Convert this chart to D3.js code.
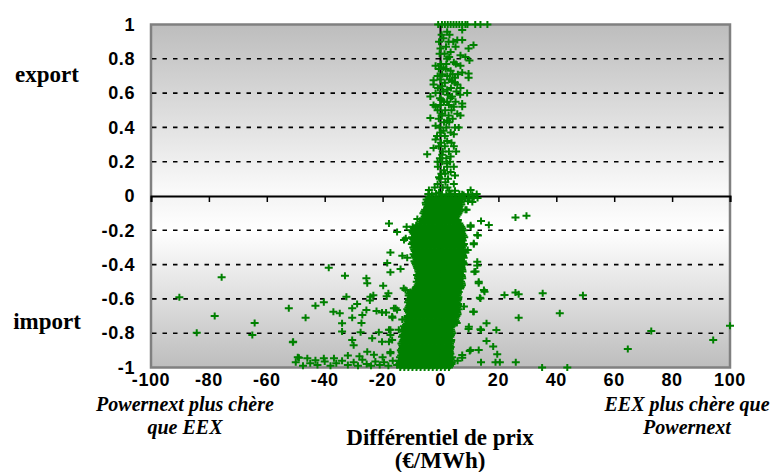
<!DOCTYPE html>
<html><head><meta charset="utf-8">
<script src="https://cdn.jsdelivr.net/npm/d3@7"></script>
<style>body{margin:0;background:#fff}svg{display:block}</style>
</head><body><svg id="chart" width="776" height="472"></svg>
<script>
// Axis ticks
const xTicks = [-100, -80, -60, -40, -20, 0, 20, 40, 60, 80, 100];
const yTicks = [1, 0.8, 0.6, 0.4, 0.2, 0, -0.2, -0.4, -0.6, -0.8, -1];
const gridValues = [0.8, 0.6, 0.4, 0.2, -0.2, -0.4, -0.6, -0.8];

// Hours with export (flow > 0): [price differential €/MWh, flow ratio]
const exportHours = [
  [-0.8,1],[0.5,1],[1.5,1],[2.5,1],[3.5,1],[4.5,1],[5.5,1],[6.5,1],[7.5,1],[8.6,1],[9.3,1],[12,1],[13.8,1],[16.2,1],
  [7.5,0.968],[2.3,0.958],[1,0.92],[5.8,0.91],[7.5,0.91],[11.4,0.88],[9.7,0.86],[0,0.86],[3.5,0.84],[6.9,0.82],
  [8.6,0.81],[10,0.79],[2.3,0.8],[4.6,0.78],[-1.7,0.76],[6.9,0.76],[1,0.75],[3.5,0.73],[7.5,0.72],[9.7,0.715],
  [-1,0.7],[2.3,0.7],[5,0.69],[9.7,0.69],[-2.4,0.675],[4,0.67],[5.8,0.65],[-2.4,0.65],[0.6,0.64],[6.9,0.63],
  [2.3,0.62],[-1.7,0.6],[-3.5,0.58],[4,0.58],[9.2,0.6],[0.3,0.56],[2.3,0.55],[7.5,0.54],[-2.4,0.53],[4.6,0.52],
  [-1.7,0.52],[7.5,0.52],[-3.5,0.455],[0.6,0.48],[5.8,0.48],[6.9,0.47],[2.3,0.44],[-1.7,0.41],[6.3,0.4],[1,0.38],
  [4.6,0.36],[-1.7,0.33],[2.3,0.32],[-4.6,0.243],[-2.4,0.28],[4.6,0.29],[0.6,0.24],[3.5,0.23],[-1,0.2],[2.3,0.19],
  [4.6,0.17],[1.2,0.15],[3.5,0.14],[-0.5,0.11],[5,0.12],[1.7,0.08],[-1,0.07],[4.6,0.07],[-4,0.035],[-4,0.01],
  [-0.5,0.02],[10.4,0.035],[7.5,0.01],
  [-4.2,0.012],[-3,0.008],[-1.5,0.015],[0.5,0.01],[2,0.006],[3.5,0.014],[5,0.008],[6.5,0.012],[8,0.006],[9.5,0.01],[11,0.008],[12.5,0.012],
  [0.4,0.94],[3.1,0.94],[-0.5,0.9],[2.8,0.9],[4.4,0.9],[1.9,0.87],[5.2,0.87],[-0.3,0.83],[1.4,0.83],[3,0.81],
  [0.2,0.77],[2,0.77],[5.3,0.77],[-0.6,0.74],[1.8,0.74],[0.6,0.71],[4.2,0.71],[6,0.71],[0,0.68],[3.2,0.68],
  [1.5,0.66],[5,0.66],[-0.9,0.63],[3.6,0.63],[0.9,0.61],[5.5,0.61],[2.5,0.59],[6.8,0.59],[-0.2,0.57],[3.5,0.57],
  [1.2,0.55],[5.2,0.55],[0,0.53],[2.9,0.53],[-1,0.5],[1.6,0.5],[3.8,0.5],[0.4,0.47],[2.8,0.47],[-0.6,0.45],
  [4.2,0.45],[1.2,0.43],[3,0.43],[-0.3,0.4],[2,0.4],[5,0.4],[0,0.37],[3.5,0.37],[1.5,0.35],[-1.2,0.35],
  [0.2,0.31],[3.8,0.31],[-0.6,0.29],[1.5,0.29],[0.8,0.26],[2.9,0.26],[5.4,0.26],[-0.2,0.22],[2,0.22],[0.6,0.2],
  [3.3,0.2],[-0.9,0.17],[2.3,0.17],[0.3,0.13],[1.6,0.13],[2.6,0.1],[-0.2,0.1],[0.8,0.05],[2.4,0.05],[-2,0.05],
  [3,0.03],[5,0.03]
];

// Hours with import (flow < 0), scattered away from the main band
const importHours = [
  [-75.6,-0.474],[-90.2,-0.59],[-52.4,-0.655],[-78,-0.7],[-64.2,-0.74],[-84.2,-0.797],[-65,-0.81],[-51,-0.853],[-49.3,-0.94],
  [-17.8,-0.16],[-15,-0.21],[-11.7,-0.18],[-8,-0.134],[-12,-0.247],[-17.3,-0.33],[-13.2,-0.348],[-11.5,-0.36],[-18.4,-0.39],
  [-38.6,-0.418],[-33,-0.465],[-25.6,-0.48],[-25.3,-0.509],[-17.3,-0.445],[-13.8,-0.426],[-19.8,-0.523],[-18,-0.567],
  [-18.6,-0.585],[-12.1,-0.548],[-32.5,-0.587],[-24.2,-0.587],[-23.2,-0.578],[-24.4,-0.61],[-40.3,-0.62],[-43.2,-0.64],
  [-28.8,-0.63],[-30.5,-0.655],[-16.1,-0.655],[-15,-0.665],[-25.6,-0.665],[-22.1,-0.67],[-20.2,-0.68],[-37,-0.675],
  [-34.8,-0.684],[-27,-0.694],[-30.5,-0.71],[-46.6,-0.71],[-16.6,-0.71],[-27.3,-0.74],[-34,-0.742],[-17.3,-0.78],
  [-34,-0.79],[-27.6,-0.795],[-21.3,-0.795],[-50.9,-0.85],[-30.5,-0.84],[-23.6,-0.83],[-20.2,-0.85],[-17.3,-0.81],
  [-17.8,-0.85],[-30,-0.87],[-25.3,-0.908],[-17.3,-0.91],[-48.9,-0.943],[-46,-0.946],[-43.2,-0.957],[-40.3,-0.946],[-36.8,-0.946],
  [-50,-0.97],[-47.5,-0.99],[-45,-0.975],[-42.5,-0.985],[-40,-0.965],[-38,-0.99],[-36,-0.975],[-34,-0.96],[-32,-0.985],
  [-30,-0.97],[-28.5,-0.99],[-27,-0.955],[-25.5,-0.98],[-24,-0.99],[-22.5,-0.965],[-21,-0.985],[-19.5,-0.97],[-18,-0.99],
  [-16.5,-0.96],[-15,-0.985],[-32,-0.93],[-28,-0.935],[-23,-0.925],[-20,-0.94],
  [-12.6,-0.257],[-12.7,-0.538],[-15.5,-0.655],[-18.8,-0.68],[-16.7,-0.703],[-13.2,-0.72],[-17.8,-0.78],[-14.4,-0.78],
  [-16.7,-0.84],[-17.3,-0.917],[-14.4,-0.96],
  [25.9,-0.126],[29.7,-0.115],[14,-0.146],[16.7,-0.169],[10.4,-0.179],[9,-0.08],[12.9,-0.231],[11.5,-0.282],[9.4,-0.315],
  [12.7,-0.383],[12.7,-0.405],[11.7,-0.441],[13.2,-0.509],[15.2,-0.558],[13.6,-0.593],[22.1,-0.577],[25.9,-0.562],[27,-0.573],
  [35.3,-0.567],[41.2,-0.684],[27,-0.71],[11.3,-0.675],[15.9,-0.742],[14,-0.781],[19.3,-0.781],[9.7,-0.775],[15.9,-0.845],
  [18.2,-0.878],[10.1,-0.904],[13.2,-0.898],[19.6,-0.923],[7.5,-0.943],[14,-0.97],[19,-0.97],[20.5,-0.97],[26,-0.97],
  [35.1,-1],[43.8,-1],[5.9,-0.96],
  [8.6,-0.08],[10.4,-0.17],[12.7,-0.227],[11.5,-0.276],[8.6,-0.33],[12.1,-0.44],[13.2,-0.5],[15,-0.548],[13.8,-0.597],
  [8.1,-0.645],[11.5,-0.675],[9.8,-0.762],[13.8,-0.777],[7.5,-0.927],[10.4,-0.898],
  [49.2,-0.579],[72.8,-0.787],[64.7,-0.892],[94.2,-0.84],[100,-0.756],
  [8.5,-0.01],[10,-0.015],[11.5,-0.008],[12.8,-0.012],[9.5,-0.03],[11,-0.035]
];

// Dense import band: rows of [flow ratio, price differentials]
const importBand = [
  [-0.01,[-4.1,-2.7,-1.3,0.1,1.5,2.8,4.2,5.6,7.0]],
  [-0.02,[-4.8,-3.3,-2.0,-0.6,0.8,2.1,3.5,4.9,6.3,7.6]],
  [-0.03,[-4.4,-3.0,-1.6,-0.2,1.2,2.6,4.0,5.3,6.7]],
  [-0.04,[-5.1,-3.8,-2.4,-1.1,0.3,1.6,3.0,4.4,5.7,7.0]],
  [-0.05,[-5.0,-3.7,-2.3,-0.9,0.5,1.9,3.3,4.6,6.0,7.2]],
  [-0.06,[-4.5,-3.1,-1.7,-0.3,1.1,2.5,3.9,5.2,6.6]],
  [-0.07,[-4.6,-3.2,-1.8,-0.5,0.9,2.3,3.6,5.0,6.3]],
  [-0.08,[-5.3,-4.0,-2.6,-1.2,0.2,1.5,2.9,4.2,5.6,6.9]],
  [-0.09,[-5.6,-4.2,-2.8,-1.4,0.0,1.4,2.8,4.1,5.5,6.6]],
  [-0.10,[-5.9,-4.4,-3.0,-1.6,-0.2,1.2,2.6,4.0,5.3,6.2]],
  [-0.11,[-5.2,-3.7,-2.3,-0.9,0.5,1.9,3.3,4.7,5.9]],
  [-0.12,[-5.5,-4.1,-2.7,-1.4,0.0,1.4,2.8,4.1,5.5]],
  [-0.13,[-6.0,-4.6,-3.2,-1.8,-0.4,1.0,2.4,3.8,5.2]],
  [-0.14,[-6.2,-4.8,-3.4,-2.0,-0.6,0.8,2.2,3.6,4.9,6.0]],
  [-0.15,[-6.6,-5.2,-3.8,-2.4,-1.0,0.4,1.8,3.2,4.6,5.9]],
  [-0.16,[-7.0,-5.6,-4.2,-2.8,-1.3,0.1,1.5,2.9,4.3,5.6,6.5]],
  [-0.17,[-8.4,-7.0,-5.6,-4.2,-2.8,-1.4,0.0,1.4,2.8,4.2,5.6,6.8]],
  [-0.18,[-9.6,-8.2,-6.8,-5.4,-4.0,-2.6,-1.2,0.2,1.6,3.0,4.4,5.8,7.2]],
  [-0.19,[-9.2,-7.8,-6.4,-5.0,-3.6,-2.2,-0.8,0.6,2.0,3.4,4.8,6.2,7.5]],
  [-0.20,[-10.0,-8.7,-7.3,-5.9,-4.5,-3.1,-1.7,-0.3,1.1,2.5,3.9,5.3,6.7,7.9]],
  [-0.21,[-9.6,-8.2,-6.8,-5.4,-4.0,-2.6,-1.2,0.2,1.6,3.0,4.4,5.8,7.2]],
  [-0.22,[-9.3,-7.9,-6.5,-5.1,-3.7,-2.3,-0.9,0.5,1.9,3.3,4.7,6.1,7.5]],
  [-0.23,[-8.8,-7.4,-6.0,-4.6,-3.2,-1.8,-0.4,1.0,2.4,3.8,5.2,6.6,7.9]],
  [-0.24,[-9.8,-8.4,-7.0,-5.6,-4.2,-2.8,-1.4,0.0,1.4,2.8,4.2,5.6,7.0,8.2]],
  [-0.25,[-9.4,-8.0,-6.6,-5.2,-3.8,-2.4,-1.0,0.4,1.8,3.2,4.6,6.0,7.4]],
  [-0.26,[-9.1,-7.7,-6.3,-4.9,-3.5,-2.1,-0.7,0.7,2.1,3.5,4.9,6.3,7.7]],
  [-0.27,[-9.6,-8.2,-6.8,-5.4,-4.0,-2.6,-1.2,0.2,1.6,3.0,4.4,5.8,7.2]],
  [-0.28,[-9.9,-8.5,-7.1,-5.7,-4.3,-2.9,-1.5,-0.1,1.3,2.7,4.1,5.5,6.9,8.1]],
  [-0.29,[-8.9,-7.5,-6.1,-4.7,-3.3,-1.9,-0.5,0.9,2.3,3.7,5.1,6.5,7.8]],
  [-0.30,[-9.4,-8.0,-6.6,-5.2,-3.8,-2.4,-1.0,0.4,1.8,3.2,4.6,6.0,7.4]],
  [-0.31,[-9.1,-7.7,-6.3,-4.9,-3.5,-2.1,-0.7,0.7,2.1,3.5,4.9,6.3,7.6]],
  [-0.32,[-8.9,-7.5,-6.1,-4.7,-3.3,-1.9,-0.5,0.9,2.3,3.7,5.1,6.5,7.9]],
  [-0.33,[-8.5,-7.1,-5.7,-4.3,-2.9,-1.5,-0.1,1.3,2.7,4.1,5.5,6.9]],
  [-0.34,[-9.3,-7.9,-6.5,-5.1,-3.7,-2.3,-0.9,0.5,1.9,3.3,4.7,6.1,7.5]],
  [-0.35,[-8.9,-7.5,-6.1,-4.7,-3.3,-1.9,-0.5,0.9,2.3,3.7,5.1,6.5,7.8]],
  [-0.36,[-8.7,-7.3,-5.9,-4.5,-3.1,-1.7,-0.3,1.1,2.5,3.9,5.3,6.7,8.0]],
  [-0.37,[-8.3,-6.9,-5.5,-4.1,-2.7,-1.3,0.1,1.5,2.9,4.3,5.7,7.1]],
  [-0.38,[-9.0,-7.6,-6.2,-4.8,-3.4,-2.0,-0.6,0.8,2.2,3.6,5.0,6.4,7.7]],
  [-0.39,[-8.7,-7.3,-5.9,-4.5,-3.1,-1.7,-0.3,1.1,2.5,3.9,5.3,6.7,7.9]],
  [-0.40,[-8.5,-7.1,-5.7,-4.3,-2.9,-1.5,-0.1,1.3,2.7,4.1,5.5,6.9,8.1]],
  [-0.41,[-8.2,-6.8,-5.4,-4.0,-2.6,-1.2,0.2,1.6,3.0,4.4,5.8,7.2]],
  [-0.42,[-8.0,-6.6,-5.2,-3.8,-2.4,-1.0,0.4,1.8,3.2,4.6,6.0,7.3]],
  [-0.43,[-7.7,-6.3,-4.9,-3.5,-2.1,-0.7,0.7,2.1,3.5,4.9,6.3,7.5]],
  [-0.44,[-7.6,-6.2,-4.8,-3.4,-2.0,-0.6,0.8,2.2,3.6,5.0,6.4,7.6]],
  [-0.45,[-7.3,-5.9,-4.5,-3.1,-1.7,-0.3,1.1,2.5,3.9,5.3,6.7]],
  [-0.46,[-8.1,-6.7,-5.3,-3.9,-2.5,-1.1,0.3,1.7,3.1,4.5,5.9,7.2]],
  [-0.47,[-7.7,-6.3,-4.9,-3.5,-2.1,-0.7,0.7,2.1,3.5,4.9,6.3,7.4]],
  [-0.48,[-7.8,-6.4,-5.0,-3.6,-2.2,-0.8,0.6,2.0,3.4,4.8,6.2,7.5]],
  [-0.49,[-7.4,-6.0,-4.6,-3.2,-1.8,-0.4,1.0,2.4,3.8,5.2,6.6]],
  [-0.50,[-8.2,-6.8,-5.4,-4.0,-2.6,-1.2,0.2,1.6,3.0,4.4,5.8,7.1]],
  [-0.51,[-7.6,-6.2,-4.8,-3.4,-2.0,-0.6,0.8,2.2,3.6,5.0,6.4,7.3]],
  [-0.52,[-7.9,-6.5,-5.1,-3.7,-2.3,-0.9,0.5,1.9,3.3,4.7,6.1,7.4]],
  [-0.53,[-8.3,-6.9,-5.5,-4.1,-2.7,-1.3,0.1,1.5,2.9,4.3,5.7,7.0]],
  [-0.54,[-8.6,-7.2,-5.8,-4.4,-3.0,-1.6,-0.2,1.2,2.6,4.0,5.4,6.8]],
  [-0.55,[-9.4,-8.0,-6.6,-5.2,-3.8,-2.4,-1.0,0.4,1.8,3.2,4.6,5.9]],
  [-0.56,[-10.4,-9.0,-7.6,-6.2,-4.8,-3.4,-2.0,-0.6,0.8,2.2,3.6,5.0,6.3]],
  [-0.57,[-10.7,-9.3,-7.9,-6.5,-5.1,-3.7,-2.3,-0.9,0.5,1.9,3.3,4.7,6.0]],
  [-0.58,[-11.0,-9.6,-8.2,-6.8,-5.4,-4.0,-2.6,-1.2,0.2,1.6,3.0,4.4,5.8]],
  [-0.59,[-10.3,-8.9,-7.5,-6.1,-4.7,-3.3,-1.9,-0.5,0.9,2.3,3.7,5.1,6.2]],
  [-0.60,[-10.6,-9.2,-7.8,-6.4,-5.0,-3.6,-2.2,-0.8,0.6,2.0,3.4,4.8,6.1]],
  [-0.61,[-10.9,-9.5,-8.1,-6.7,-5.3,-3.9,-2.5,-1.1,0.3,1.7,3.1,4.5,5.9]],
  [-0.62,[-11.2,-9.8,-8.4,-7.0,-5.6,-4.2,-2.8,-1.4,0.0,1.4,2.8,4.2,5.6]],
  [-0.63,[-10.5,-9.1,-7.7,-6.3,-4.9,-3.5,-2.1,-0.7,0.7,2.1,3.5,4.9,6.1]],
  [-0.64,[-10.8,-9.4,-8.0,-6.6,-5.2,-3.8,-2.4,-1.0,0.4,1.8,3.2,4.6,6.0]],
  [-0.65,[-11.1,-9.7,-8.3,-6.9,-5.5,-4.1,-2.7,-1.3,0.1,1.5,2.9,4.3,5.7]],
  [-0.66,[-11.5,-10.1,-8.7,-7.3,-5.9,-4.5,-3.1,-1.7,-0.3,1.1,2.5,3.9,5.3,6.3]],
  [-0.67,[-11.2,-9.8,-8.4,-7.0,-5.6,-4.2,-2.8,-1.4,0.0,1.4,2.8,4.2,5.6]],
  [-0.68,[-10.9,-9.5,-8.1,-6.7,-5.3,-3.9,-2.5,-1.1,0.3,1.7,3.1,4.5,5.8]],
  [-0.69,[-10.6,-9.2,-7.8,-6.4,-5.0,-3.6,-2.2,-0.8,0.6,2.0,3.4,4.8,5.9]],
  [-0.70,[-11.3,-9.9,-8.5,-7.1,-5.7,-4.3,-2.9,-1.5,-0.1,1.3,2.7,4.1,5.5]],
  [-0.71,[-11.5,-10.1,-8.7,-7.3,-5.9,-4.5,-3.1,-1.7,-0.3,1.1,2.5,3.9,5.2]],
  [-0.72,[-11.8,-10.4,-9.0,-7.6,-6.2,-4.8,-3.4,-2.0,-0.6,0.8,2.2,3.6,5.0]],
  [-0.73,[-11.4,-10.0,-8.6,-7.2,-5.8,-4.4,-3.0,-1.6,-0.2,1.2,2.6,4.0,5.3]],
  [-0.74,[-11.1,-9.7,-8.3,-6.9,-5.5,-4.1,-2.7,-1.3,0.1,1.5,2.9,4.3,5.6]],
  [-0.75,[-11.9,-10.5,-9.1,-7.7,-6.3,-4.9,-3.5,-2.1,-0.7,0.7,2.1,3.5,4.6]],
  [-0.76,[-12.6,-11.2,-9.8,-8.4,-7.0,-5.6,-4.2,-2.8,-1.4,0.0,1.4,2.8,3.9]],
  [-0.77,[-12.3,-10.9,-9.5,-8.1,-6.7,-5.3,-3.9,-2.5,-1.1,0.3,1.7,3.1]],
  [-0.78,[-13.0,-11.6,-10.2,-8.8,-7.4,-6.0,-4.6,-3.2,-1.8,-0.4,1.0,2.4,3.6]],
  [-0.79,[-12.7,-11.3,-9.9,-8.5,-7.1,-5.7,-4.3,-2.9,-1.5,-0.1,1.3,2.7,3.8]],
  [-0.80,[-12.4,-11.0,-9.6,-8.2,-6.8,-5.4,-4.0,-2.6,-1.2,0.2,1.6,3.0,4.0]],
  [-0.81,[-12.9,-11.5,-10.1,-8.7,-7.3,-5.9,-4.5,-3.1,-1.7,-0.3,1.1,2.5,3.6]],
  [-0.82,[-13.3,-11.9,-10.5,-9.1,-7.7,-6.3,-4.9,-3.5,-2.1,-0.7,0.7,2.1,3.4]],
  [-0.83,[-12.5,-11.1,-9.7,-8.3,-6.9,-5.5,-4.1,-2.7,-1.3,0.1,1.5,2.9]],
  [-0.84,[-12.8,-11.4,-10.0,-8.6,-7.2,-5.8,-4.4,-3.0,-1.6,-0.2,1.2,2.6,3.7]],
  [-0.85,[-13.1,-11.7,-10.3,-8.9,-7.5,-6.1,-4.7,-3.3,-1.9,-0.5,0.9,2.3,3.6]],
  [-0.86,[-13.5,-12.1,-10.7,-9.3,-7.9,-6.5,-5.1,-3.7,-2.3,-0.9,0.5,1.9,3.3]],
  [-0.87,[-13.2,-11.8,-10.4,-9.0,-7.6,-6.2,-4.8,-3.4,-2.0,-0.6,0.8,2.2,3.2]],
  [-0.88,[-13.0,-11.6,-10.2,-8.8,-7.4,-6.0,-4.6,-3.2,-1.8,-0.4,1.0,2.4,3.5]],
  [-0.89,[-13.3,-11.9,-10.5,-9.1,-7.7,-6.3,-4.9,-3.5,-2.1,-0.7,0.7,2.1,3.3]],
  [-0.90,[-13.7,-12.3,-10.9,-9.5,-8.1,-6.7,-5.3,-3.9,-2.5,-1.1,0.3,1.7,3.1]],
  [-0.91,[-13.4,-12.0,-10.6,-9.2,-7.8,-6.4,-5.0,-3.6,-2.2,-0.8,0.6,2.0,3.2]],
  [-0.92,[-13.2,-11.8,-10.4,-9.0,-7.6,-6.2,-4.8,-3.4,-2.0,-0.6,0.8,2.2,3.4]],
  [-0.93,[-13.6,-12.2,-10.8,-9.4,-8.0,-6.6,-5.2,-3.8,-2.4,-1.0,0.4,1.8,3.1]],
  [-0.94,[-14.0,-12.6,-11.2,-9.8,-8.4,-7.0,-5.6,-4.2,-2.8,-1.4,0.0,1.4,2.8,4.0]],
  [-0.95,[-13.3,-11.9,-10.5,-9.1,-7.7,-6.3,-4.9,-3.5,-2.1,-0.7,0.7,2.1,3.5]],
  [-0.96,[-13.6,-12.2,-10.8,-9.4,-8.0,-6.6,-5.2,-3.8,-2.4,-1.0,0.4,1.8,3.2]],
  [-0.97,[-13.9,-12.5,-11.1,-9.7,-8.3,-6.9,-5.5,-4.1,-2.7,-1.3,0.1,1.5,2.9,3.9]],
  [-0.98,[-14.2,-12.8,-11.4,-10.0,-8.6,-7.2,-5.8,-4.4,-3.0,-1.6,-0.2,1.2,2.6,3.8]],
  [-0.99,[-13.5,-12.1,-10.7,-9.3,-7.9,-6.5,-5.1,-3.7,-2.3,-0.9,0.5,1.9,3.3]],
  [-1.00,[-13.9,-12.5,-11.1,-9.7,-8.3,-6.9,-5.5,-4.1,-2.7,-1.3,0.1,1.5,2.9]]
];

const svg = d3.select("#chart");
const plot = {left: 151, right: 730, top: 24.5, bottom: 367.5};
const x = d3.scaleLinear().domain([-100, 100]).range([plot.left, plot.right]);
const y = d3.scaleLinear().domain([-1, 1]).range([plot.bottom, plot.top]);

// Plot background: grey at the top and bottom edges, white around zero
const defs = svg.append("defs");
const grad = defs.append("linearGradient").attr("id", "bg")
  .attr("x1", 0).attr("y1", 0).attr("x2", 0).attr("y2", 1);
[[0, "#bdbdbd"], [0.49, "#fafafa"], [0.5, "#f4f4f4"], [0.6, "#ffffff"], [1, "#bdbdbd"]]
  .forEach(([o, c]) => grad.append("stop").attr("offset", o).attr("stop-color", c));

svg.append("rect")
  .attr("x", plot.left).attr("y", plot.top)
  .attr("width", plot.right - plot.left).attr("height", plot.bottom - plot.top)
  .attr("fill", "url(#bg)").attr("stroke", "#808080").attr("stroke-width", 2.5);

// Dashed gridlines
svg.append("g").selectAll("line").data(gridValues).join("line")
  .attr("x1", plot.left + 1).attr("x2", plot.right - 1)
  .attr("y1", d => y(d)).attr("y2", d => y(d))
  .attr("stroke", "#000").attr("stroke-width", 1.6).attr("stroke-dasharray", "4.5,6");

// Axes crossing at zero
const xAxis = d3.axisBottom(x).tickValues(xTicks).tickSize(6).tickFormat("");
const gx = svg.append("g").attr("transform", `translate(0,${y(0)})`).call(xAxis);
gx.select(".domain").attr("stroke", "#000").attr("stroke-width", 2);
gx.selectAll(".tick line").attr("stroke", "#000").attr("stroke-width", 1.5);

svg.append("line")
  .attr("x1", x(0)).attr("x2", x(0)).attr("y1", plot.top).attr("y2", plot.bottom)
  .attr("stroke", "#000").attr("stroke-width", 2);

// Tick labels
const tickFont = "'Liberation Sans', Arial, sans-serif";
svg.append("g").selectAll("text").data(yTicks).join("text")
  .attr("x", 135).attr("y", d => y(d) + 1.5)
  .attr("text-anchor", "end").attr("dominant-baseline", "middle")
  .attr("font-family", tickFont).attr("font-weight", "bold").attr("font-size", 18)
  .attr("letter-spacing", 0.6)
  .text(d => d3.format("")(d).replace("−", "-"));

svg.append("g").selectAll("text").data(xTicks).join("text")
  .attr("x", d => x(d)).attr("y", 381)
  .attr("text-anchor", "middle").attr("dominant-baseline", "middle")
  .attr("font-family", tickFont).attr("font-weight", "bold").attr("font-size", 18)
  .attr("letter-spacing", 0.6)
  .text(d => String(d));

// Plus markers
const plus = "M-4,0H4M0,-3.5V3.5";
const allPoints = exportHours.concat(importHours);
importBand.forEach(([fy, xs]) => xs.forEach(v => allPoints.push([v, fy])));

svg.append("g").selectAll("path").data(allPoints).join("path")
  .attr("d", plus)
  .attr("transform", d => `translate(${x(d[0])},${y(d[1])})`)
  .attr("fill", "none").attr("stroke", "#008000").attr("stroke-width", 2);

// Annotations
const serif = "'Liberation Serif', 'Times New Roman', serif";
function label(txt, tx, ty, size, italic) {
  svg.append("text").attr("x", tx).attr("y", ty)
    .attr("text-anchor", "middle")
    .attr("font-family", serif).attr("font-weight", "bold")
    .attr("font-style", italic ? "italic" : "normal")
    .attr("font-size", size).text(txt);
}
label("export", 47, 82, 23, false);
label("import", 47, 329, 23, false);
label("Powernext plus chère", 185, 411, 20, true);
label("que EEX", 185, 434, 20, true);
label("EEX plus chère que", 687, 411, 20, true);
label("Powernext", 687, 434, 20, true);
label("Différentiel de prix", 440, 445, 23, false);
label("(€/MWh)", 440, 468, 23, false);
</script>
</body></html>
